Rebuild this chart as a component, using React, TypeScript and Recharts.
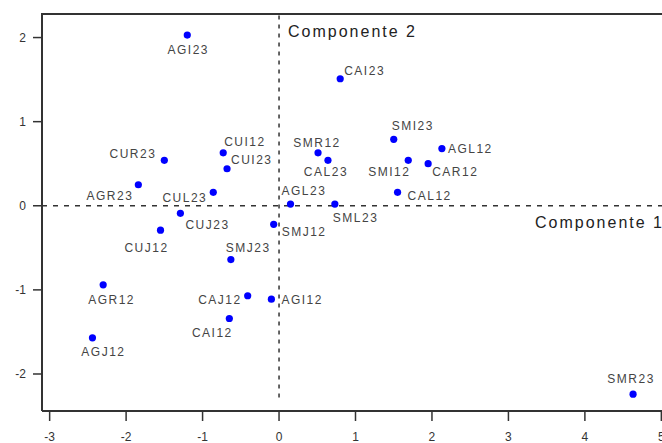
import React from 'react';
import { ScatterChart, Scatter, XAxis, YAxis, ReferenceLine } from 'recharts';

const NAMES = [
  'AGI23', 'CAI23', 'CUI12', 'CUI23', 'SMR12', 'CAL23', 'SMI23', 'AGL12', 'SMI12',
  'CAR12', 'CAL12', 'CUR23', 'AGR23', 'CUL23', 'AGL23', 'SML23', 'CUJ23', 'SMJ12',
  'CUJ12', 'SMJ23', 'AGR12', 'CAJ12', 'AGI12', 'CAI12', 'AGJ12', 'SMR23',
];
const PC1 = [
  -1.2, 0.8, -0.73, -0.68, 0.51, 0.64, 1.5, 2.13, 1.69,
  1.95, 1.55, -1.5, -1.84, -0.86, 0.15, 0.73, -1.29, -0.07,
  -1.55, -0.63, -2.3, -0.41, -0.1, -0.65, -2.44, 4.63,
];
const PC2 = [
  2.03, 1.51, 0.63, 0.44, 0.63, 0.54, 0.79, 0.68, 0.54,
  0.5, 0.16, 0.54, 0.25, 0.16, 0.02, 0.02, -0.09, -0.22,
  -0.29, -0.64, -0.94, -1.07, -1.11, -1.34, -1.57, -2.24,
];

const X_TICKS = [-3, -2, -1, 0, 1, 2, 3, 4, 5];
const Y_TICKS = [-2, -1, 0, 1, 2];

const points = NAMES.map((name, i) => ({ name, x: PC1[i], y: PC2[i] }));

// where each label sits relative to its dot: dx, dy (baseline), anchor
const LABEL_POS: Record<string, [number, number, 'start' | 'middle' | 'end']> = {
  AGI23: [1, 19, 'middle'],
  CAI23: [4, -4, 'start'],
  CUI12: [1, -7, 'start'],
  CUI23: [4, -5, 'start'],
  SMR12: [-1, -6, 'middle'],
  CAL23: [-2, 16, 'middle'],
  SMI23: [-2, -9, 'start'],
  AGL12: [6, 4, 'start'],
  SMI12: [-19, 16, 'middle'],
  CAR12: [4, 12, 'start'],
  CAL12: [10, 8, 'start'],
  CUR23: [-8, -2, 'end'],
  AGR23: [-5, 15, 'end'],
  CUL23: [-6, 10, 'end'],
  AGL23: [-9, -9, 'start'],
  SML23: [-2, 18, 'start'],
  CUJ23: [5, 16, 'start'],
  SMJ12: [8, 12, 'start'],
  CUJ12: [-14, 22, 'middle'],
  SMJ23: [-5, -8, 'start'],
  AGR12: [-15, 19, 'start'],
  CAJ12: [-6, 8, 'end'],
  AGI12: [10, 5, 'start'],
  CAI12: [-17, 19, 'middle'],
  AGJ12: [11, 18, 'middle'],
  SMR23: [-2, -11, 'middle'],
};

const FONT = '"Liberation Sans", Arial, sans-serif';
const AXIS = '#333';
const X_DOMAIN: [number, number] = [-3.1, 5.1];
const Y_DOMAIN: [number, number] = [-2.44, 2.28];
const TOP = 14;
const LEFT = 42;

const Dot = (props: any) => {
  const { cx, cy, payload } = props;
  const [dx, dy, anchor] = LABEL_POS[payload.name] || [5, 4, 'start'];
  return (
    <g>
      <circle cx={cx} cy={cy} r={3.6} fill="#0000ff" />
      <text
        x={cx + dx}
        y={cy + dy}
        textAnchor={anchor}
        fontSize={12}
        letterSpacing={1.5}
        fill="#444"
        fontFamily={FONT}
      >
        {payload.name}
      </text>
    </g>
  );
};

export default function App() {
  return (
    <div style={{ position: 'absolute', left: 0, top: 0, width: 662, height: 443, overflow: 'hidden', background: '#fff' }}>
      <ScatterChart width={700} height={443} margin={{ top: TOP, right: 31, bottom: 0, left: 0 }}>
        <XAxis
          type="number"
          dataKey="x"
          domain={X_DOMAIN}
          ticks={X_TICKS}
          allowDataOverflow
          tickSize={10}
          tickMargin={11}
          height={32}
          axisLine={{ stroke: AXIS, strokeWidth: 2 }}
          tickLine={{ stroke: AXIS, strokeWidth: 1.5 }}
          tick={{ fontSize: 12, fill: '#333', fontFamily: FONT }}
        />
        <YAxis
          type="number"
          dataKey="y"
          domain={Y_DOMAIN}
          ticks={Y_TICKS}
          allowDataOverflow
          width={LEFT}
          tickSize={9}
          tickMargin={7}
          axisLine={{ stroke: AXIS, strokeWidth: 2 }}
          tickLine={{ stroke: AXIS, strokeWidth: 1.5 }}
          tick={{ fontSize: 12, fill: '#333', fontFamily: FONT }}
        />
        <ReferenceLine
          y={0}
          stroke="#333"
          strokeWidth={1.5}
          strokeDasharray="5 6"
          label={{ value: 'Componente 1', position: 'insideBottomRight', dy: 27, dx: 0, fontSize: 16, letterSpacing: 2, fill: '#222', fontFamily: FONT }}
        />
        <ReferenceLine
          segment={[{ x: 0, y: -2.28 }, { x: 0, y: Y_DOMAIN[1] }]}
          stroke="#333"
          strokeWidth={1.5}
          strokeDasharray="4 5"
        />
        <Scatter data={points} shape={Dot} isAnimationActive={false} />
        <text x={288} y={37} fontSize={16} letterSpacing={2} fill="#222" fontFamily={FONT}>
          Componente 2
        </text>
      </ScatterChart>
      {/* top edge of the plot frame */}
      <div
        style={{
          position: 'absolute',
          left: LEFT - 1,
          right: 0,
          top: TOP - 1,
          height: 0,
          borderTop: `2px solid ${AXIS}`,
        }}
      />
    </div>
  );
}
